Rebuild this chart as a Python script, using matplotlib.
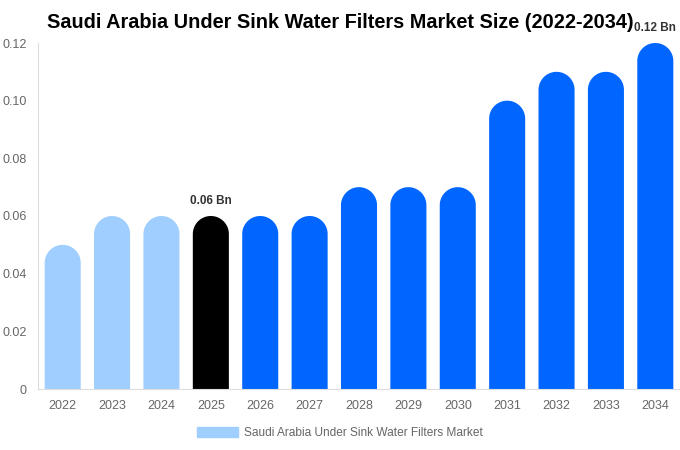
import numpy as np
import matplotlib.pyplot as plt
from matplotlib.patches import Patch

plt.rcParams['font.family'] = ['Liberation Sans', 'DejaVu Sans']

years = ['2022', '2023', '2024', '2025', '2026', '2027', '2028', '2029', '2030',
         '2031', '2032', '2033', '2034']
values = [0.05, 0.06, 0.06, 0.06, 0.06, 0.06, 0.07, 0.07, 0.07, 0.10, 0.11, 0.11, 0.12]
colors = ['#a0cfff'] * 3 + ['#000000'] + ['#0066ff'] * 9
labels = {3: '0.06 Bn', 12: '0.12 Bn'}
yticks = [0, 0.02, 0.04, 0.06, 0.08, 0.10, 0.12]
ytick_labels = ['0', '0.02', '0.04', '0.06', '0.08', '0.10', '0.12']

fig = plt.figure(figsize=(6.8, 4.5), dpi=100)
ax = fig.add_axes([38 / 680, 61 / 450, 642 / 680, 346 / 450])
ax.set_xlim(-0.5, 12.5)
ax.set_ylim(0, 0.12)

w = 0.73
# round cap: half the bar width, converted to y data units
px_per_x = 642 / 13
px_per_y = 346 / 0.12
ry = (w * px_per_x / 2) / px_per_y
t = np.linspace(0, np.pi, 60)

for i, v in enumerate(values):
    xs = np.concatenate([[i + w / 2], i + w / 2 * np.cos(t), [i - w / 2]])
    ys = np.concatenate([[0], (v - ry) + ry * np.sin(t), [0]])
    ax.fill(xs, ys, color=colors[i], linewidth=0)
    if i in labels:
        ax.text(i, v + 0.0032, labels[i], ha='center', va='bottom',
                fontsize=8.5, fontweight='bold', color='#333333')

ax.set_xticks(range(len(years)))
ax.set_xticklabels(years)
ax.set_yticks(yticks)
ax.set_yticklabels(ytick_labels)
ax.tick_params(axis='both', length=0, labelsize=9, labelcolor='#666666')
ax.tick_params(axis='x', pad=8)
ax.tick_params(axis='y', pad=8)
for s in ['top', 'right']:
    ax.spines[s].set_visible(False)
for s in ['left', 'bottom']:
    ax.spines[s].set_color('#dddddd')
    ax.spines[s].set_linewidth(0.8)

fig.text(340 / 680, 428 / 450, 'Saudi Arabia Under Sink Water Filters Market Size (2022-2034)',
         ha='center', va='center', fontsize=14.3, fontweight='bold')

fig.legend(handles=[Patch(color='#a0cfff', label='Saudi Arabia Under Sink Water Filters Market')],
           loc='center', bbox_to_anchor=(0.5, 17 / 450), frameon=False,
           fontsize=8.6, labelcolor='#666666', handlelength=3.4, handleheight=0.9,
           handletextpad=0.5)

fig.savefig('out.png', dpi=100)
